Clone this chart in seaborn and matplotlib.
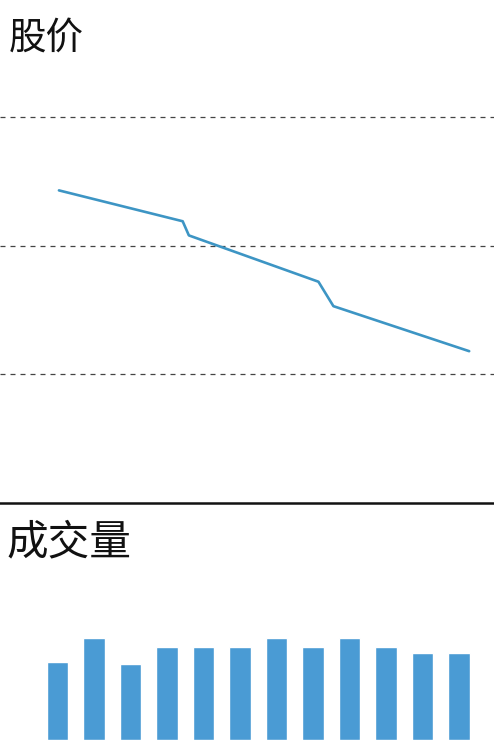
import matplotlib.pyplot as plt
import seaborn as sns
import numpy as np

# price line (x in trading-day units, y in price units)
price_x = [0.04, 3.43, 3.60, 7.15, 7.56, 11.28]
price_y = [24.3, 21.9, 20.8, 17.2, 15.3, 11.8]
price_grid = [10, 20, 30]

# volume bars
days = list(range(12))
volume = [78, 102, 76, 93, 93, 93, 102, 93, 102, 93, 87, 87]

sns.set_theme(style="white")
plt.rcParams["font.family"] = ["Noto Sans CJK SC", "DejaVu Sans"]

fig = plt.figure(figsize=(4.94, 7.40), dpi=100)
xlim = (-1.575, 11.96)

# bottom panel: volume (drawn first so the separator sits on top)
ax2 = fig.add_axes([0, 0, 1, 0.3203])
ax2.patch.set_visible(False)
sns.barplot(x=days, y=volume, ax=ax2, color="#4a9bd4", width=0.58,
            saturation=1, native_scale=True)
ax2.set_xlim(*xlim)
ax2.set_ylim(0, 237)
ax2.set_xticks([])
ax2.set_yticks([])
ax2.set_xlabel("")
ax2.set_ylabel("")
for s in ax2.spines.values():
    s.set_visible(False)

# top panel: price
ax1 = fig.add_axes([0, 0.3203, 1, 0.6797])
ax1.patch.set_visible(False)
sns.lineplot(x=price_x, y=price_y, ax=ax1, color="#3d95c4", linewidth=1.9)
for g in price_grid:
    ax1.axhline(g, color="#444444", linestyle=(0, (4, 4)), linewidth=0.9, zorder=0)
ax1.set_xlim(*xlim)
ax1.set_ylim(0, 39.1)
ax1.set_xticks([])
ax1.set_yticks([])
for s in ["top", "left", "right"]:
    ax1.spines[s].set_visible(False)
ax1.spines["bottom"].set_color("#111111")
ax1.spines["bottom"].set_linewidth(1.8)

fig.text(0.018, 0.948, "股价", fontsize=27, color="#111111", va="center",
         fontweight="medium")
fig.text(0.014, 0.267, "成交量", fontsize=30, color="#111111", va="center",
         fontweight="medium")

fig.savefig("out.png", dpi=100)
